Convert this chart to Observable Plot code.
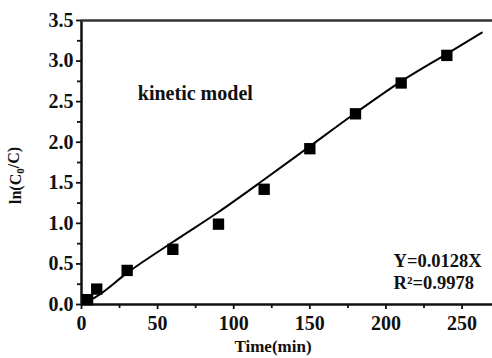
<!DOCTYPE html>
<html>
<head>
<meta charset="utf-8">
<script src="https://cdn.jsdelivr.net/npm/d3@7"></script>
<script src="https://cdn.jsdelivr.net/npm/@observablehq/plot@0.6"></script>
<style>
  html, body { margin: 0; padding: 0; background: #fff; }
  #chart svg { display: block; }
  #chart svg text { font-weight: bold; }
</style>
</head>
<body>
<div id="chart"></div>
<script>
// Measured points
const times = [4, 10, 30, 60, 90, 120, 150, 180, 210, 240];
const lnRatio = [0.06, 0.19, 0.42, 0.68, 0.99, 1.42, 1.92, 2.35, 2.73, 3.07];
// Model curve as drawn
const fitTimes = [3, 10, 30, 60, 90, 120, 150, 180, 210, 240, 263];
const fitValues = [0.03, 0.1, 0.39, 0.77, 1.14, 1.54, 1.95, 2.36, 2.75, 3.09, 3.35];
// Ticks
const xTicks = [0, 50, 100, 150, 200, 250];
const xMinor = [25, 75, 125, 175, 225];
const yTicks = [0, 0.5, 1.0, 1.5, 2.0, 2.5, 3.0, 3.5];
const yMinor = [0.25, 0.75, 1.25, 1.75, 2.25, 2.75, 3.25];
const annotations = ["kinetic model", "Y=0.0128X", "R²=0.9978"];

const points = times.map((t, i) => ({t, v: lnRatio[i]}));
const fit = fitTimes.map((t, i) => ({t, v: fitValues[i]}));

const font = "'Liberation Serif', 'Times New Roman', serif";

const chart = Plot.plot({
  width: 492,
  height: 358,
  marginLeft: 81,
  marginRight: 0,
  marginTop: 20,
  marginBottom: 54,
  style: {fontFamily: font, fontWeight: "bold", fontSize: "20px", color: "#111", background: "#fff"},
  x: {domain: [0, 270]},
  y: {domain: [0, 3.5]},
  marks: [
    Plot.axisX(xTicks, {tickSize: 5, tickPadding: 6, tickFormat: d => String(d), fontSize: 20, strokeWidth: 1.8, label: null}),
    Plot.axisX(xMinor, {tickSize: 4, tickFormat: () => "", strokeWidth: 1.8, label: null}),
    Plot.axisY(yTicks, {tickSize: 5, tickPadding: 3, tickFormat: d => d.toFixed(1), fontSize: 20, strokeWidth: 1.8, label: null}),
    Plot.axisY(yMinor, {tickSize: 4, tickFormat: () => "", strokeWidth: 1.8, label: null}),
    Plot.ruleX([0], {stroke: "#111", strokeWidth: 2.5}),
    Plot.ruleY([0], {stroke: "#111", strokeWidth: 2.5}),
    Plot.ruleY([3.5], {stroke: "#333", strokeWidth: 2.5}),
    Plot.line(fit, {x: "t", y: "v", stroke: "#000", strokeWidth: 2, curve: "monotone-x"}),
    Plot.dot(points, {x: "t", y: "v", symbol: "square", r: 6.4, fill: "#000", stroke: "none"}),
    Plot.text([annotations[0]], {x: 37, y: 2.6, text: d => d, textAnchor: "start", fontSize: 20}),
    Plot.text([annotations[1]], {x: 205, y: 0.54, text: d => d, textAnchor: "start", fontSize: 18.5}),
    Plot.text([annotations[2]], {x: 205, y: 0.26, text: d => d, textAnchor: "start", fontSize: 18.5}),
    Plot.text(["Time(min)"], {frameAnchor: "bottom", dx: -14, dy: 47, text: d => d, fontSize: 17}),
    Plot.text(["ln(C0/C)"], {frameAnchor: "left", textAnchor: "middle", dx: -66, dy: 13, rotate: -90, text: d => d, fontSize: 16, className: "ylab"})
  ]
});

document.getElementById("chart").appendChild(chart);

// subscript 0 in y label
d3.select(chart).selectAll("g.ylab text").each(function() {
  const el = d3.select(this);
  el.text(null);
  el.append("tspan").text("ln(C");
  el.append("tspan").attr("dy", "0.3em").attr("font-size", "11px").text("0");
  el.append("tspan").attr("dy", "-0.3em").text("/C)");
});
</script>
</body>
</html>
